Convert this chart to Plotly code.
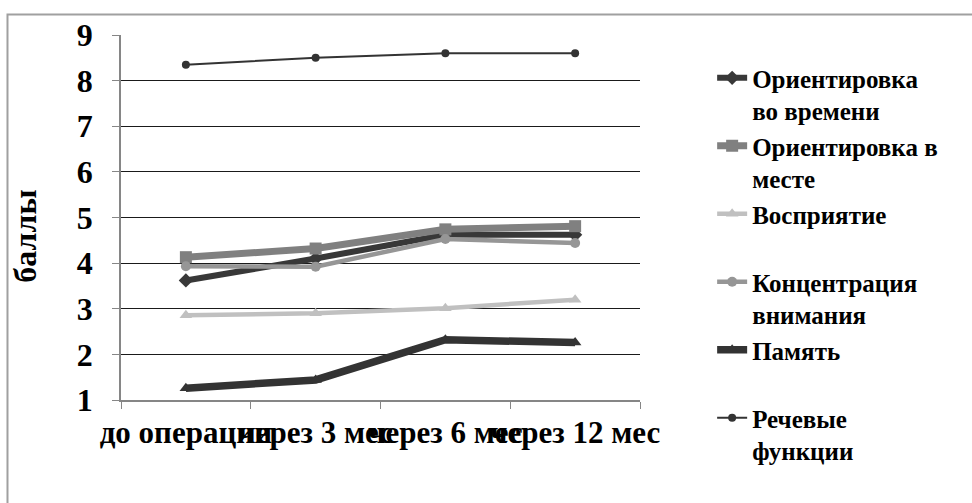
import plotly.graph_objects as go

# Periods of observation
periods = ["до операции", "через 3 мес", "через 6 мес", "через 12 мес"]

# Mean scores per cognitive function
orient_time = [3.62, 4.1, 4.62, 4.62]
orient_place = [4.13, 4.32, 4.74, 4.81]
perception = [2.86, 2.9, 3.01, 3.2]
concentration = [3.93, 3.92, 4.53, 4.44]
memory = [1.26, 1.44, 2.32, 2.26]
speech = [8.35, 8.5, 8.6, 8.6]

series_names = [
    "Ориентировка<br>во времени",
    "Ориентировка в<br>месте",
    "Восприятие<br> ",
    "Концентрация<br>внимания",
    "Память<br> ",
    "Речевые<br>функции",
]

styles = [
    dict(color="#383838", width=6, symbol="diamond", size=11),
    dict(color="#808080", width=7, symbol="square", size=12),
    dict(color="#c0c0c0", width=4.5, symbol="triangle-up", size=11),
    dict(color="#969696", width=4.5, symbol="circle", size=10),
    dict(color="#333333", width=7.5, symbol="triangle-up", size=11),
    dict(color="#333333", width=2, symbol="circle", size=8),
]

values = [orient_time, orient_place, perception, concentration, memory, speech]

FONT = "Liberation Serif, Times New Roman, serif"

fig = go.Figure()
for name, vals, st in zip(series_names, values, styles):
    fig.add_trace(go.Scatter(
        x=periods, y=vals, name=name, mode="lines+markers",
        line=dict(color=st["color"], width=st["width"]),
        marker=dict(color=st["color"], symbol=st["symbol"], size=st["size"]),
    ))

# outer chart frame
fig.add_shape(type="rect", xref="paper", yref="paper",
              x0=-0.2187, x1=1.7, y0=-0.35, y1=1.056,
              line=dict(color="#a0a0a0", width=2), layer="below")

# vertical axis title
fig.add_annotation(text="баллы", xref="paper", yref="paper",
                   x=-0.185, y=0.45, xanchor="center", yanchor="middle",
                   textangle=-90, showarrow=False,
                   font=dict(family=FONT, size=32, color="black", weight="bold"))

fig.update_layout(
    width=972, height=503,
    margin=dict(l=121, r=332, t=35, b=103),
    paper_bgcolor="white", plot_bgcolor="white",
    font=dict(family=FONT, color="black"),
    showlegend=True,
    legend=dict(
        x=1.139, y=0.945, xanchor="left", yanchor="top",
        font=dict(family=FONT, size=25, color="black", weight="bold"),
        valign="top", bgcolor="rgba(0,0,0,0)", tracegroupgap=0,
        maxheight=500,
    ),
    xaxis=dict(
        type="category", range=[-0.5, 3.5], tickangle=0,
        ticks="outside", ticklen=7, tickcolor="#868686", tickson="boundaries",
        showline=True, linecolor="#868686", linewidth=1.5,
        showgrid=False, ticklabelstandoff=4,
        tickfont=dict(family=FONT, size=31, color="black", weight="bold"),
    ),
    yaxis=dict(
        range=[1, 9], dtick=1, ticks="outside", ticklen=7, tickcolor="#868686",
        showline=True, linecolor="#868686", linewidth=1.5,
        showgrid=True, gridcolor="#1a1a1a", gridwidth=1,
        zeroline=False, ticklabelstandoff=13,
        tickfont=dict(family=FONT, size=32, color="black", weight="bold"),
    ),
)

fig.write_html("out.html")
